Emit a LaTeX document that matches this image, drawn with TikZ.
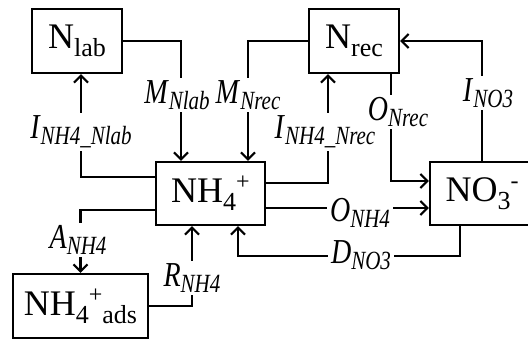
\documentclass[tikz,border=0pt]{standalone}
\usepackage{fontspec}
\setmainfont{Liberation Serif}
\usepackage{tikz}
\usetikzlibrary{arrows.meta}

% sub- and superscripts inside the pools
\newcommand{\bsub}[1]{\raisebox{-8pt}{\fontsize{26}{26}\selectfont #1}}
\newcommand{\bsup}[1]{\raisebox{13pt}{\fontsize{24}{24}\selectfont #1}}
% flux labels
\newcommand{\flux}[2]{\scalebox{1}[1.25]{\textit{#1}\raisebox{-5pt}{\fontsize{21}{21}\selectfont\textit{#2}}}}

\begin{document}
\begin{tikzpicture}[
    x=1pt, y=-1pt,
    pool/.style={rectangle, draw, line width=2.2pt, inner sep=0pt, minimum width=90pt, minimum height=64pt, font=\fontsize{36}{36}\selectfont},
    flow/.style={fill=white, inner xsep=3pt, inner ysep=2.5pt, font=\fontsize{28}{28}\selectfont},
    arr/.style={-{Straight Barb[length=7pt,width=14pt,line width=2.2pt]}, line width=2.2pt}
]
\useasboundingbox (0,0) rectangle (528,341);

% Pools
\node[pool] (nlab) at (77,41) {N\bsub{lab}};
\node[pool] (nrec) at (354,41) {N\bsub{rec}};
\node[pool, minimum width=109pt, minimum height=63pt] (nhf) at (210.5,193.5) {NH\bsub{4}\bsup{+}};
\node[pool, minimum width=104pt, minimum height=63pt] (nof) at (482,193.5) {NO\bsub{3}\bsup{-}};
\node[pool, minimum width=135pt] (ads) at (80.5,306) {NH\bsub{4}\bsup{+}\bsub{ads}};

% Fluxes
\draw[arr] ([yshift=16.5pt]nhf.west) -| ([xshift=4pt]nlab.south);
\draw[arr] (nlab.east) -| ([xshift=-29.5pt]nhf.north);
\draw[arr] (nrec.west) -| ([xshift=37.5pt]nhf.north);
\draw[arr] ([yshift=10.5pt]nhf.east) -| ([xshift=-26pt]nrec.south);
\draw[arr] ([xshift=37pt]nrec.south) |- ([yshift=12.5pt]nof.west);
\draw[arr] (nof.north) |- (nrec.east);
\draw[arr] ([yshift=-14.5pt]nhf.east) -- ([yshift=-14.5pt]nof.west);
\draw[arr] ([xshift=-22pt]nof.south) -- ++(0,30) -| ([xshift=27.5pt]nhf.south);
\draw[arr] ([yshift=-16.5pt]nhf.west) -| (ads.north);
\draw[arr] (ads.east) -| ([xshift=-18.5pt]nhf.south);

% Labels
\node[flow] (inl) at (81,132) {\flux{I}{NH4\_Nlab}};
\node[flow] (mnl) at (177,95) {\flux{M}{Nlab}};
\node[flow] (mnr) at (248,95) {\flux{M}{Nrec}};
\node[flow] (inr) at (325,132) {\flux{I}{NH4\_Nrec}};
\node[flow] (onr) at (398,112) {\flux{O}{Nrec}};
\node[flow] (ino) at (488,93) {\flux{I}{NO3}};
\node[flow] (onh) at (360,213) {\flux{O}{NH4}};
\node[flow] (dno) at (361,255) {\flux{D}{NO3}};
\node[flow] (anh) at (78,240) {\flux{A}{NH4}};
\node[flow] (rnh) at (192,278) {\flux{R}{NH4}};

\end{tikzpicture}
\end{document}
